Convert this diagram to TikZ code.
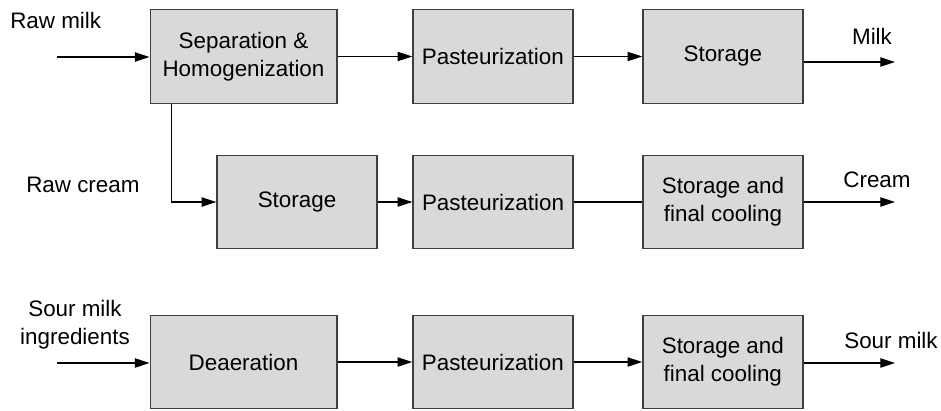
\documentclass[tikz,border=0pt]{standalone}
\usepackage{fontspec}
\setmainfont{Liberation Sans}
\usetikzlibrary{arrows.meta,positioning}
\definecolor{boxfill}{HTML}{D9D9D9}
\definecolor{boxline}{HTML}{3F3F3F}
\tikzset{proc/.style={draw=boxline,fill=boxfill,line width=1pt,minimum width=120pt,minimum height=70pt,align=center,inner sep=2pt,font=\fontsize{16.8pt}{20.7pt}\selectfont},
wideproc/.style={proc,minimum width=140pt},
flow/.style={-{Triangle[length=11pt,width=7pt]},line width=0.8pt,draw=black},
plainflow/.style={line width=0.8pt,draw=black},
label/.style={font=\fontsize{16.8pt}{20.7pt}\selectfont,align=center,inner sep=0pt}}
\begin{document}
\begin{tikzpicture}[x=0.75pt,y=-0.75pt]
\useasboundingbox (0,0) rectangle (941,410);
% milk line
\node[wideproc] (sep) at (243.5,56.5) {Separation \&\\Homogenization};
\node[proc,right=56pt of sep] (past1) {Pasteurization};
\node[proc,right=51.5pt of past1] (store1) {Storage};
% cream line
\node[proc] (store2) at (297,202) {Storage};
\node[proc,right=26pt of store2] (past2) {Pasteurization};
\node[proc,right=51.5pt of past2] (cool2) {Storage and\\final cooling};
% sour milk line
\node[wideproc] (deaer) at (243.5,362) {Deaeration};
\node[proc,right=56pt of deaer] (past3) {Pasteurization};
\node[proc,right=51.5pt of past3] (cool3) {Storage and\\final cooling};
% in and out
\coordinate (rawin) at (57,57);
\coordinate (milkout) at (895,62);
\coordinate (creamout) at (895,202);
\coordinate (sourin) at (57,363);
\coordinate (sourout) at (895,363);
\node[label,anchor=west] (rawmilk) at (10,20) {Raw milk};
\node[label,anchor=west] (rawcream) at (26,185) {Raw cream};
\node[label] (milk) at (872,36) {Milk};
\node[label] (cream) at (877,180) {Cream};
\node[label] (sourlbl) at (75,325) {Sour milk\\ingredients};
\node[label] (sour) at (891,340) {Sour milk};
\draw[flow] (rawin)--(sep.west |- rawin);
\draw[flow] (sep)--(past1);\draw[flow] (past1)--(store1);
\draw[flow] (store1.east |- milkout)--(milkout);
\draw[flow] ([xshift=16.5pt]sep.south west) |- (store2.west);
\draw[flow] (store2)--(past2);\draw[plainflow] (past2)--(cool2);
\draw[flow] (cool2.east |- creamout)--(creamout);
\draw[flow] (sourin)--(deaer.west |- sourin);
\draw[flow] (deaer)--(past3);\draw[flow] (past3)--(cool3);
\draw[flow] (cool3.east |- sourout)--(sourout);
\end{tikzpicture}
\end{document}
